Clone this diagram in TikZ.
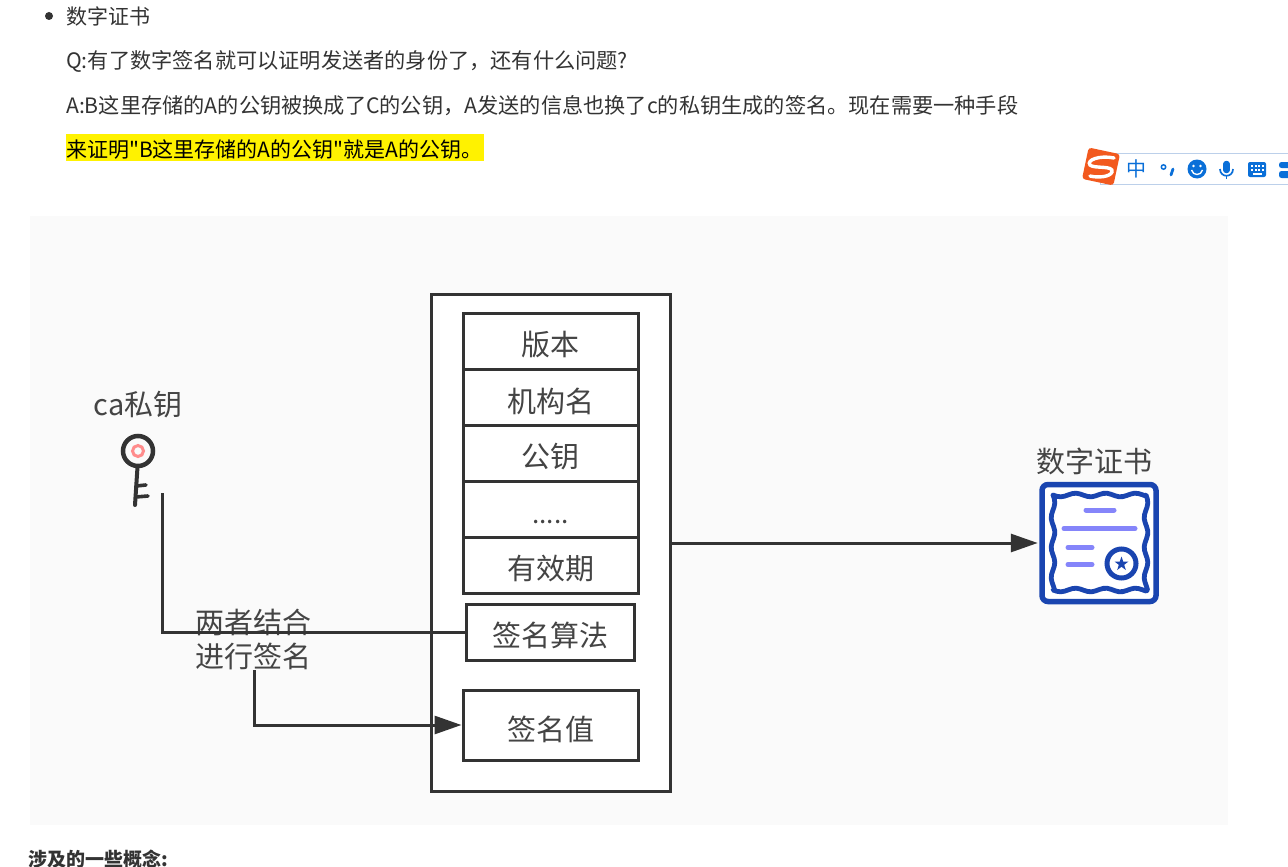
\documentclass[tikz,border=0pt]{standalone}
\usepackage{fontspec}
\setmainfont{Noto Sans CJK SC}
\newfontfamily\plainfont{Noto Sans CJK SC}
\newcommand{\fwcomma}{\char"FF0C\relax}
\usetikzlibrary{arrows.meta}
\definecolor{ink}{HTML}{333333}
\definecolor{lab}{HTML}{444444}
\definecolor{certblue}{HTML}{1A45B0}
\definecolor{certlav}{HTML}{8585FA}
\definecolor{imeblue}{HTML}{0A6FD8}
\definecolor{imeline}{HTML}{BCD0EA}
\definecolor{imeorange}{HTML}{F2591E}
\definecolor{panel}{HTML}{FAFAFA}
\tikzset{
  x=1pt,y=-1pt,
  para/.style={anchor=west,inner sep=0pt,text=ink,font=\plainfont\fontsize{21}{24}\selectfont},
  paralong/.style={para,font=\plainfont\fontsize{21.2}{24}\selectfont},
  cell/.style={draw=ink,line width=3pt,fill=white,minimum width=175pt,inner sep=0pt,text=lab,font=\fontsize{29}{34}\selectfont},
  lbl/.style={inner sep=0pt,text=lab,font=\fontsize{29}{34}\selectfont,align=center},
  wire/.style={draw=ink,line width=3pt},
  arrowed/.style={wire,-{Triangle[length=27pt,width=18pt]}},
  certbar/.style={draw=certlav,line width=5pt,line cap=round},
  imeicon/.style={draw=imeblue,line width=2.4pt}
}
\begin{document}
\begin{tikzpicture}
\useasboundingbox (0,0) rectangle (1288,867);
\clip (0,0) rectangle (1288,867);
\fill[white] (0,0) rectangle (1288,867);
% page text
\fill[ink] (49,16) circle (4);
\node[para] (t1) at (66,16.5) {数字证书};
\node[paralong] (t2) at (66,61) {Q:有了数字签名就可以证明发送者的身份了\fwcomma 还有什么问题?};
\node[paralong] (t3) at (66,106) {A:B这里存储的A的公钥被换成了C的公钥\fwcomma A发送的信息也换了c的私钥生成的签名。现在需要一种手段};
\fill[yellow] (66,134) rectangle (484,161);
\node[para,text=black] (t4) at (66,149.5) {来证明"B这里存储的A的公钥"就是A的公钥。};
\node[para,font=\plainfont\fontsize{19}{24}\selectfont\bfseries] (t5) at (28,859) {涉及的一些概念:};
% input method bar
\fill[white,draw=imeline,line width=1pt] (1100,153.5) rectangle (1295,184);
\fill[imeorange,rounded corners=3pt,rotate around={-12:(1101,166.5)}] (1085,150.5) rectangle (1117,182.5);
\draw[white,line width=3.4pt,line cap=round] (1114,158) .. controls (1100,155) and (1086,160) .. (1090,165) .. controls (1094,169) and (1114,165) .. (1112,172) .. controls (1110,177) and (1098,178) .. (1090,176);
\node[inner sep=0pt,text=imeblue,font=\fontsize{20}{24}\selectfont] (zh) at (1136.5,169) {中};
\draw[imeicon,line width=1.5pt] (1163.5,167) circle (2.2);
\draw[imeblue,line width=2.8pt,line cap=round] (1173,169) -- (1171,175);
\fill[imeblue] (1197,169) circle (9.5);
\fill[white] (1193.5,166) circle (1.3) (1200.5,166) circle (1.3);
\draw[white,line width=1.4pt] (1191.5,170) .. controls (1193,176) and (1201,176) .. (1202.5,170);
\draw[imeblue,line width=6.5pt,line cap=round] (1226.5,164) -- (1226.5,170);
\draw[imeblue,line width=1.7pt] (1220,169) .. controls (1220,178) and (1233,178) .. (1233,169);
\draw[imeblue,line width=1.7pt] (1226.5,176) -- (1226.5,179);
\fill[imeblue,rounded corners=2pt] (1248,162) rectangle (1266,177);
\foreach \xx in {1251,1254.5,1258,1261.5}{\fill[white] (\xx,165) rectangle ++(2,2);\fill[white] (\xx,169) rectangle ++(2,2);}
\fill[white] (1253,173) rectangle (1262,174.5);
\fill[imeblue,rounded corners=2.5pt] (1279,162) rectangle (1292,168);
\fill[imeblue,rounded corners=2.5pt] (1279,171) rectangle (1292,178);
% diagram background
\fill[panel] (30,216) rectangle (1228,825);
% structure
\node[draw=ink,line width=3pt,fill=white,minimum width=239pt,minimum height=497pt,inner sep=0pt] (outer) at (550.5,543) {};
\node[cell,minimum height=56pt] (c1) at (550.5,341.5) {};
\node[cell,minimum height=56pt] (c2) at (550.5,397) {};
\node[cell,minimum height=56pt] (c3) at (550.5,453) {};
\node[cell,minimum height=56pt] (c4) at (550.5,509) {};
\node[cell,minimum height=56pt] (c5) at (550.5,565) {};
\node[lbl] at (550.5,345) {版本};
\node[lbl] at (550.5,401) {机构名};
\node[lbl] at (550.5,457) {公钥};
\node[lbl,font=\fontsize{26}{30}\selectfont] at (550.5,522) {.....};
\node[lbl] at (550.5,568.5) {有效期};
\node[cell,minimum width=168pt,minimum height=56pt] (algo) at (550.5,632) {};
\node[lbl] at (550.5,635) {签名算法};
\node[cell,minimum height=70pt] (val) at (550.5,725) {};
\node[lbl] at (550.5,729) {签名值};
% labels
\node[lbl] (calabel) at (138,405) {ca私钥};
\node[lbl] (both) at (253.5,639) {两者结合\\进行签名};
\node[lbl] (certlabel) at (1094,461) {数字证书};
% key
\coordinate (keystart) at (162.5,493);
\coordinate (bothfoot) at (254,670);
\draw[draw=ink,line width=4.5pt] (138,451) circle (15);
\draw[draw=ink,line width=4pt,line cap=round] (137.5,467) -- (135,505);
\draw[draw=ink,line width=3.6pt,line cap=round] (136,486) -- (146,485);
\draw[draw=ink,line width=3.6pt,line cap=round] (135.5,497) -- (148,496);
\draw[draw=red!45,line width=3pt] (138,451) circle (5.5);
% certificate
\node[draw=certblue,line width=5.5pt,fill=white,rounded corners=6pt,minimum width=114pt,minimum height=117pt,inner sep=0pt] (cert) at (1099,543) {};
\draw[certblue,line width=4.8pt,line join=round]
  plot[smooth,domain=0:93,samples=25] ({1053+\x},{495+1.8*sin(\x*12)})
  -- plot[smooth,domain=0:95,samples=25] ({1146+1.8*sin(\x*12)},{495+\x})
  -- plot[smooth,domain=93:0,samples=25] ({1053+\x},{590+1.8*sin(\x*12)})
  -- plot[smooth,domain=95:0,samples=25] ({1053+1.8*sin(\x*12)},{495+\x}) -- cycle;
\draw[certbar] (1086,510) -- (1114,510);
\draw[certbar] (1064,528.5) -- (1135,528.5);
\draw[certbar] (1068,547.5) -- (1092,547.5);
\draw[certbar] (1068,564.5) -- (1092,564.5);
\draw[certblue,fill=white,line width=5pt] (1121.5,563.5) circle (14.5);
\fill[certblue] (1121.5,556.5)--(1123.2,561.5)--(1128.5,561.5)--(1124.2,564.8)--(1125.8,570)--(1121.5,566.8)--(1117.2,570)--(1118.8,564.8)--(1114.5,561.5)--(1119.8,561.5)--cycle;
% connectors
\draw[wire] (keystart) |- (algo.west);
\draw[arrowed] (bothfoot) |- (val.west);
\draw[arrowed,shorten >=1.5pt] (outer.east) -- (cert.west);
\end{tikzpicture}
\end{document}
